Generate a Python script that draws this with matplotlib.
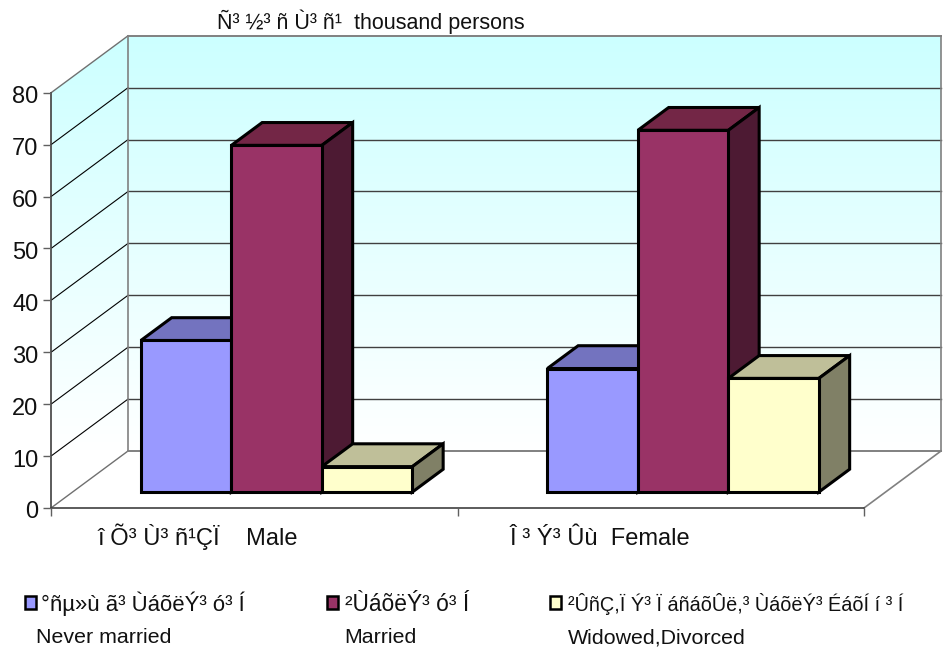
import numpy as np
import matplotlib
matplotlib.use("Agg")
import matplotlib.pyplot as plt
from matplotlib.colors import LinearSegmentedColormap
from matplotlib.patches import Polygon, Rectangle
from matplotlib.transforms import ScaledTranslation

plt.rcParams['font.family'] = ['Liberation Sans', 'DejaVu Sans']

# data
categories = ["î Õ³ Ù³ ñ¹ÇÏ    Male", "Î ³ Ý³ Ûù  Female"]
never_married = [29.2, 23.8]
married = [66.8, 69.7]
widowed = [4.9, 21.9]
y_ticks = [0, 10, 20, 30, 40, 50, 60, 70, 80]
unit_label = "Ñ³ ½³ ñ Ù³ ñ¹  thousand persons"
legend_am = ["°ñµ»ù ã³ ÙáõëÝ³ ó³ Í", "²ÙáõëÝ³ ó³ Í", "²ÛñÇ,Ï Ý³ Ï áñáõÛë,³ ÙáõëÝ³ ÉáõÍ í ³ Í"]
legend_en = ["Never married", "Married", "Widowed,Divorced"]

W, H = 947, 656
PX_X = 406.5      # pixels per category
PX_Y = 5.19       # pixels per y unit
DX = 77 / PX_X    # whole depth of the box, in data units
DY = 57 / PX_Y
BAR_W = 90.5 / PX_X
BAR_SHIFT = 0.8 / PX_X
BAR_D0 = 0.28     # bars start this far into the depth
BAR_D1 = 0.68

front = ['#9999FF', '#993366', '#FFFFCC']
top = ['#7373BF', '#732646', '#BFBF99']
side = ['#4D4D80', '#4D1A33', '#808066']


def proj(x, v, d):
    # oblique projection: d = 0 is the front of the box, d = 1 the back wall
    return (x + d * DX, v + d * DY)


fig = plt.figure(figsize=(W / 100, H / 100), dpi=100, facecolor='white')
ax = fig.add_axes([51 / W, (H - 508) / H, 813 / W, 80 * PX_Y / H])
ax.patch.set_alpha(0)

# walls, with the vertical fade
wall_pts = [proj(0, 0, 0), proj(0, 80, 0), proj(0, 80, 1), proj(2, 80, 1), proj(2, 0, 1), proj(0, 0, 1)]
cmap = LinearSegmentedColormap.from_list('wall', ['#FFFFFF', '#CCFFFF'])
im = ax.imshow(np.linspace(0, 1, 256).reshape(-1, 1), cmap=cmap, origin='lower', aspect='auto',
               extent=[0, 2 + DX, DY, 80 + DY], zorder=0)
clip = Polygon(wall_pts, transform=ax.transData, fc='none', ec='none', clip_on=False)
ax.add_patch(clip)
im.set_clip_box(fig.bbox)
im.set_clip_path(clip)

ax.set_xlim(0, 2)
ax.set_ylim(0, 80)

# grid lines on the two walls
for v in y_ticks:
    edge = v in (0, 80)
    left = np.array([proj(0, v, 0), proj(0, v, 1)])
    back = np.array([proj(0, v, 1), proj(2, v, 1)])
    ax.plot(left[:, 0], left[:, 1], color='#707070' if edge else 'black', lw=1.0 if edge else 0.8,
            clip_on=False, zorder=1)
    ax.plot(back[:, 0], back[:, 1], color='#808080' if edge else '#404040', lw=1.4 if edge else 1.0,
            clip_on=False, zorder=1)
# box edges
edges = [[proj(0, 0, 1), proj(0, 80, 1)], [proj(2, 0, 1), proj(2, 80, 1)], [proj(2, 0, 0), proj(2, 0, 1)]]
for e in edges:
    e = np.array(e)
    ax.plot(e[:, 0], e[:, 1], color='#808080', lw=1.2, clip_on=False, zorder=1)

# bars, left to right so later fronts hide earlier sides
series = [never_married, married, widowed]
z = 2
for c in range(len(categories)):
    x0 = c + 0.5 - 1.5 * BAR_W + BAR_SHIFT
    for s, vals in enumerate(series):
        v = vals[c]
        xl = x0 + s * BAR_W
        xr = xl + BAR_W
        top_pts = [proj(xl, v, BAR_D0), proj(xr, v, BAR_D0), proj(xr, v, BAR_D1), proj(xl, v, BAR_D1)]
        side_pts = [proj(xr, 0, BAR_D0), proj(xr, v, BAR_D0), proj(xr, v, BAR_D1), proj(xr, 0, BAR_D1)]
        ax.add_patch(Polygon(top_pts, fc=top[s], ec='black', lw=2.2, joinstyle='miter', clip_on=False, zorder=z))
        ax.add_patch(Polygon(side_pts, fc=side[s], ec='black', lw=2.2, joinstyle='miter', clip_on=False, zorder=z))
        fx, fy = proj(xl, 0, BAR_D0)
        ax.bar(fx, v, BAR_W, bottom=fy, align='edge', color=front[s], edgecolor='black', lw=2.2,
               clip_on=False, zorder=z + 1)
        z += 2

# axes
for name in ['top', 'right']:
    ax.spines[name].set_visible(False)
for name in ['left', 'bottom']:
    ax.spines[name].set_color('#404040')
    ax.spines[name].set_linewidth(1.2)
    ax.spines[name].set_zorder(1.5)
ax.set_yticks(y_ticks)
ax.set_xticks([0, 1, 2])
ax.set_xticklabels([])
ax.tick_params(axis='both', length=6, width=1.0, color='#606060', pad=3)
ax.tick_params(axis='y', labelsize=17, labelcolor='#111111')
for lab in ax.get_yticklabels():
    lab.set_transform(lab.get_transform() + ScaledTranslation(0, -2 / 100, fig.dpi_scale_trans))

# texts
fig.text(217 / W, 1 - 29 / H, unit_label, fontsize=15.5, va='baseline', ha='left', color='#111111')
cat_x = [97, 509]
for t, x in zip(categories, cat_x):
    fig.text(x / W, 1 - 545 / H, t, fontsize=17, va='baseline', ha='left', color='#111111')

# legend
box_x = [25, 327, 550]
am_x = [41, 345, 568]
en_x = [36, 344, 568]
am_size = [15.9, 16.4, 14.3]
for i in range(3):
    fig.add_artist(Rectangle((box_x[i] / W, 1 - 609 / H), 11 / W, 13 / H, transform=fig.transFigure,
                             fc=front[i], ec='black', lw=1.8))
    fig.text(am_x[i] / W, 1 - 611 / H, legend_am[i], fontsize=am_size[i], va='baseline', ha='left', color='#111111')
    fig.text(en_x[i] / W, 1 - 643 / H, legend_en[i], fontsize=15.4, va='baseline', ha='left', color='#111111')

fig.savefig('out.png', dpi=100)
